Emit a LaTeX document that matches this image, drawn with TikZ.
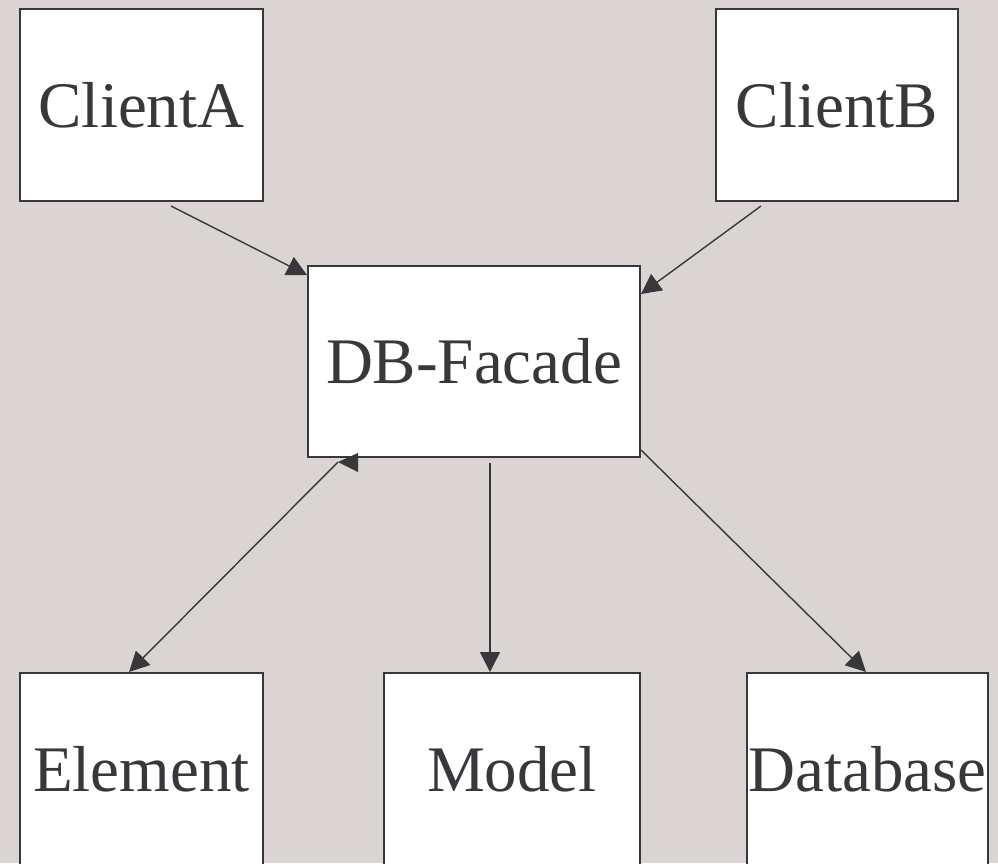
\documentclass[tikz,border=0pt]{standalone}
\usepackage{fontspec}
\setmainfont{Liberation Serif}
\usetikzlibrary{arrows.meta,calc}
\definecolor{bgc}{RGB}{218,213,210}
\definecolor{ink}{RGB}{56,55,60}
\tikzset{
  box/.style={draw=ink, line width=2pt, fill=white, rectangle, inner sep=0pt,
    text=ink, font=\fontsize{65}{78}\selectfont},
  conn/.style={draw=ink, line width=1.4pt},
  tip/.style={-{Triangle[length=20pt,width=20pt]}},
}
\begin{document}
\begin{tikzpicture}[x=1pt,y=-1pt]
  \fill[bgc] (0,0) rectangle (998,863);
  \useasboundingbox (0,0) rectangle (998,863);

  \node[box, minimum width=243pt, minimum height=192pt] (ca) at (141.5,105) {ClientA};
  \node[box, minimum width=242pt, minimum height=192pt] (cb) at (837,105) {ClientB};
  \node[box, minimum width=332pt, minimum height=191pt] (f) at (474,361.5) {DB-Facade};
  \node[box, minimum width=243pt, minimum height=192pt] (el) at (141.5,769) {Element};
  \node[box, minimum width=256pt, minimum height=192pt] (mo) at (512,769) {Model};
  \node[box, minimum width=241pt, minimum height=192pt] (db) at (867.5,769) {Database};

  % clients into the facade
  \draw[conn, tip] ($(ca.south west)+(152,4)$) -- ($(f.north west)+(0,10)$);
  \draw[conn, tip] ($(cb.south west)+(46,4)$) -- ($(f.north east)+(0,29)$);

  % facade to the subsystems
  \coordinate (fe) at ($(f.south west)+(31,4)$);
  \draw[conn, tip] (fe) -- ($(el.north west)+(110,0)$);
  \fill[ink] (fe) -- ($(fe)+(20,-9)$) -- ($(fe)+(20,10)$) -- cycle;
  \draw[conn, tip] ($(f.south)+(16,5)$) -- ($(mo.north)+(-22,0)$);
  \draw[conn, tip] ($(f.south east)+(0,-8)$) -- ($(db.north west)+(120,0)$);
\end{tikzpicture}
\end{document}
